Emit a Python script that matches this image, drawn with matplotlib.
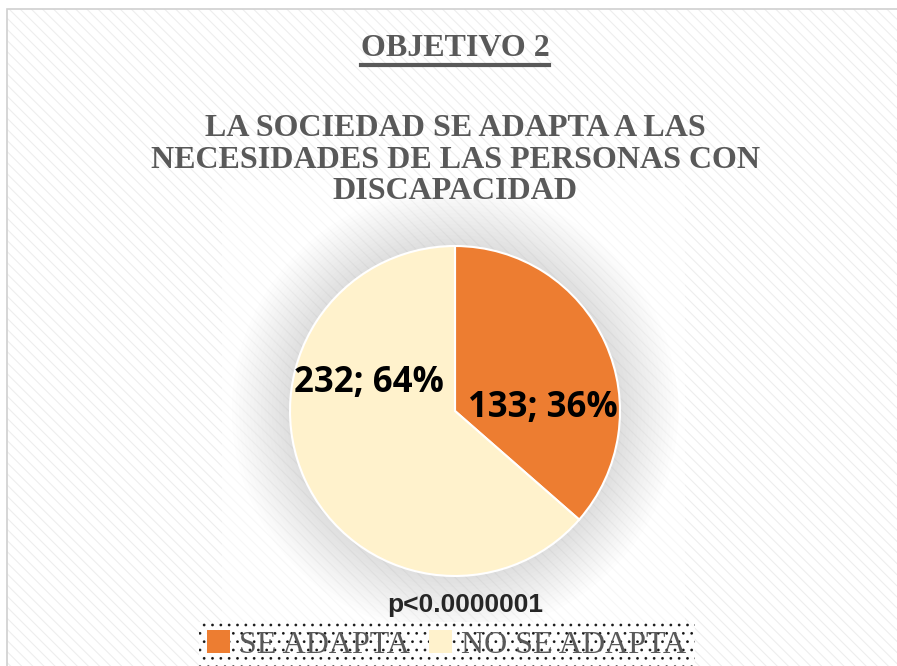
import matplotlib
matplotlib.use("Agg")
import matplotlib.pyplot as plt
from matplotlib.patches import Rectangle, Circle, Patch

# data
categories = ["SE ADAPTA", "NO SE ADAPTA"]
counts = [133, 232]
colors = ["#ED7D31", "#FFF2CC"]
heading = "OBJETIVO 2"
title = "LA SOCIEDAD SE ADAPTA A LAS\nNECESIDADES DE LAS PERSONAS CON\nDISCAPACIDAD"
note = "p<0.0000001"

# label spots inside the pie (axes data units)
label_pos = [(0.53, 0.02), (-0.52, 0.17)]

W, H = 897, 666
plt.rcParams["hatch.linewidth"] = 0.8
fig = plt.figure(figsize=(W / 100, H / 100), dpi=100)
fig.patch.set_facecolor("white")

# striped chart background with light frame
bg = Rectangle((7 / W, 0), 1, 1 - 9 / H, transform=fig.transFigure,
               facecolor="white", edgecolor="#eeeeee", hatch="\\\\\\",
               linewidth=0, zorder=0)
fig.patches.append(bg)
frame = Rectangle((7 / W, -0.01), 1, 1 - 9 / H + 0.01, transform=fig.transFigure,
                  facecolor="none", edgecolor="#d0d0d0", linewidth=1.2, zorder=1)
fig.patches.append(frame)
plot_area = Rectangle((222 / W, 36 / H), 463 / W, 450 / H, transform=fig.transFigure,
                      facecolor="white", edgecolor="none", alpha=0.55, zorder=1)
fig.patches.append(plot_area)

# pie
cx, cy, r = 455, 411, 165
ax = fig.add_axes([(cx - r) / W, (H - cy - r) / H, 2 * r / W, 2 * r / H])
ax.set_zorder(2)
ax.patch.set_visible(False)

# soft glow around the pie
for i in range(16):
    rad = 1.0 + 0.022 * (16 - i)
    ax.add_patch(Circle((0, 0), rad, color="#808080", alpha=0.014, lw=0,
                        zorder=0, clip_on=False))

wedges, _ = ax.pie(counts, colors=colors, startangle=90, counterclock=False,
                   radius=1, wedgeprops=dict(edgecolor="white", linewidth=1.5))
total = sum(counts)
for (x, y), n in zip(label_pos, counts):
    ax.text(x, y, f"{n}; {round(100 * n / total)}%", ha="center", va="center",
            fontsize=25, fontweight="bold", family="Open Sans", color="black")
ax.set_xlim(-1, 1)
ax.set_ylim(-1, 1)
ax.axis("off")

# titles
t1 = fig.text(455 / W, 1 - 49 / H, heading, ha="center", va="center",
              fontsize=23, fontweight="bold", family="Liberation Serif", color="#595959")
fig.text(455 / W, 1 - 160 / H, title, ha="center", va="center", linespacing=1.1,
         fontsize=23, fontweight="bold", family="Liberation Serif", color="#595959")
fig.canvas.draw()
bb = t1.get_window_extent()
fig.add_artist(plt.Line2D([bb.x0 / W, bb.x1 / W], [1 - 65 / H, 1 - 65 / H],
                          transform=fig.transFigure, color="#595959", linewidth=3))

fig.text(465 / W, 1 - 605 / H, note, ha="center", va="center",
         fontsize=19, fontweight="bold", family="Liberation Sans", color="#262626")

# legend
handles = [Patch(facecolor=c, edgecolor="none") for c in colors]
leg = fig.legend(handles, categories, loc="center", bbox_to_anchor=(447 / W, 1 - 645 / H),
                 ncol=2, frameon=True, fancybox=False, handlelength=0.7, handleheight=0.7,
                 handletextpad=0.3, columnspacing=0.6, borderpad=0.25,
                 prop=dict(family="Liberation Serif", size=23))
for t in leg.get_texts():
    t.set_color("#595959")
fr = leg.get_frame()
fr.set_facecolor("white")
fr.set_edgecolor("black")
fr.set_linewidth(0)
fr.set_hatch("..")

fig.savefig("out.png", dpi=100)
